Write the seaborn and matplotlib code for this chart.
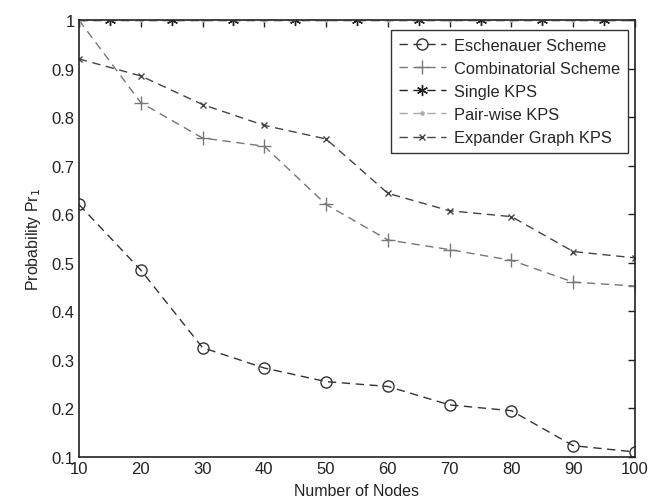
import matplotlib
matplotlib.use('Agg')
import matplotlib.pyplot as plt
import numpy as np
import pandas as pd
import seaborn as sns

nodes = [10, 20, 30, 40, 50, 60, 70, 80, 90, 100]
eschenauer = [0.62, 0.485, 0.325, 0.283, 0.255, 0.245, 0.207, 0.195, 0.123, 0.11]
combinatorial = [1.0, 0.83, 0.757, 0.74, 0.62, 0.547, 0.527, 0.505, 0.46, 0.452]
single_nodes = [10, 15, 25, 35, 45, 55, 65, 75, 85, 95, 100]
single_kps = [1, 1, 1, 1, 1, 1, 1, 1, 1, 1, 1]
pairwise_kps = [1, 1, 1, 1, 1, 1, 1, 1, 1, 1]
expander = [0.92, 0.885, 0.826, 0.783, 0.755, 0.643, 0.607, 0.595, 0.523, 0.51]

sns.set_style('white')
plt.rcParams['font.family'] = ['Liberation Sans', 'DejaVu Sans']

fig = plt.figure(figsize=(6.58, 5.02), dpi=100)
ax = fig.add_axes([0.12, 0.088, 0.845, 0.87])

dash = (6, 4)
# matlab-style asterisk
asterisk = (6, 2, 0)

sns.lineplot(x=nodes, y=eschenauer, ax=ax, color='#333333', lw=1, marker='o',
             markersize=8, markerfacecolor='none', markeredgecolor='#333333',
             markeredgewidth=1, label='Eschenauer Scheme')
ax.lines[-1].set_dashes(dash)
sns.lineplot(x=nodes, y=combinatorial, ax=ax, color='#777777', lw=1, marker='+',
             markersize=10, markeredgewidth=1, markeredgecolor='#777777',
             label='Combinatorial Scheme')
ax.lines[-1].set_dashes(dash)
sns.lineplot(x=single_nodes, y=single_kps, ax=ax, color='#222222', lw=1, marker=asterisk,
             markersize=8, markeredgewidth=1, markeredgecolor='#222222',
             label='Single KPS', markevery=list(range(1, 10)))
ax.lines[-1].set_dashes(dash)
sns.lineplot(x=nodes, y=pairwise_kps, ax=ax, color='#aaaaaa', lw=1, marker='.',
             markersize=5, markeredgecolor='#aaaaaa', label='Pair-wise KPS')
ax.lines[-1].set_dashes(dash)
sns.lineplot(x=nodes, y=expander, ax=ax, color='#444444', lw=1, marker='x',
             markersize=5, markeredgewidth=1, markeredgecolor='#444444',
             label='Expander Graph KPS')
ax.lines[-1].set_dashes(dash)

ax.set_xlim(10, 100)
ax.set_ylim(0.1, 1)
ax.set_xticks(nodes)
ax.set_yticks([0.1, 0.2, 0.3, 0.4, 0.5, 0.6, 0.7, 0.8, 0.9, 1])
ax.set_yticklabels(['0.1', '0.2', '0.3', '0.4', '0.5', '0.6', '0.7', '0.8', '0.9', '1'])
ax.tick_params(direction='in', top=True, right=True, length=5, width=1,
               labelsize=12, colors='#222222', pad=3)
for s in ax.spines.values():
    s.set_color('#222222')
    s.set_linewidth(1.2)

ax.set_xlabel('Number of Nodes', fontsize=11.5, color='#222222', labelpad=5)
ax.set_ylabel('Probability Pr$_1$', fontsize=11.5, color='#222222', labelpad=6)

leg = ax.legend(loc='upper right', bbox_to_anchor=(0.987, 0.977), fontsize=11.8,
                frameon=True, fancybox=False, edgecolor='#333333', framealpha=1,
                handlelength=2.9, borderpad=0.45, labelspacing=0.5, handletextpad=0.5,
                borderaxespad=0)
leg.get_frame().set_linewidth(1)

fig.savefig('out.png', dpi=100)
